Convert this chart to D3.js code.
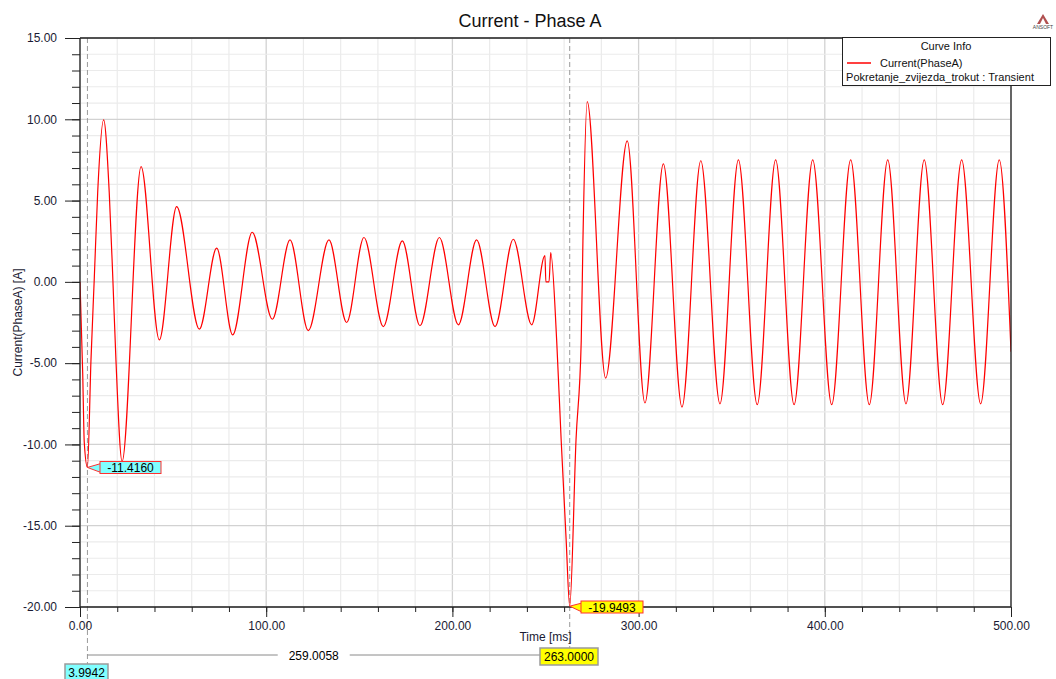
<!DOCTYPE html>
<html><head><meta charset="utf-8">
<script src="https://cdn.jsdelivr.net/npm/d3@7"></script>
<style>body{margin:0;background:#fff;} svg{display:block;font-family:Arial,"Liberation Sans",sans-serif;}</style>
</head><body><svg id="c" width="1056" height="679"></svg>
<script>
// ---- data ----
const timeMs = [0, 1.45, 2.3, 3.99, 5.9, 7.7, 9.5, 12.7, 15.7, 17.6, 19.3, 22.6,
  32.8, 42.6, 51.9, 64.1, 73.4, 82.0, 92.5, 103.3, 112.8, 122.6, 133.7, 143.2,
  152.5, 162.9, 173.1, 182.6, 193.0, 203.2, 213.0, 222.9, 232.7, 242.6,
  249.7, 250.2, 251.9, 252.8, 256.0, 258.4, 261.1, 263.0, 266.4, 269.2, 270.1, 272.4,
  282.3, 293.9, 303.4, 313.3, 323.3, 333.4, 343.7, 353.6, 363.7, 373.6, 383.5,
  393.5, 403.7, 413.9, 423.9, 433.8, 443.6, 453.4, 463.3, 473.5, 483.7, 493.7, 500.0];
const currentA = [0, -5.6, -9.9, -11.416, -4.8, 0.3, 5.5, 9.96, 5.5, 0.3, -4.8, -11.05,
  7.09, -3.57, 4.63, -2.91, 2.07, -3.26, 3.05, -2.30, 2.58, -3.0, 2.58, -2.5,
  2.73, -2.75, 2.52, -2.7, 2.73, -2.64, 2.58, -2.75, 2.62, -2.64,
  1.62, 0.0, 0.0, 1.80, -3.6, -9.7, -15.9, -19.9493, -9.7, -3.6, 2.5, 11.09,
  -5.92, 8.67, -7.45, 7.26, -7.7, 7.45, -7.5, 7.5, -7.55, 7.5, -7.55,
  7.5, -7.55, 7.5, -7.55, 7.5, -7.5, 7.5, -7.55, 7.5, -7.5, 7.5, -4.3];

const xTickValues = [0, 100, 200, 300, 400, 500];
const xTickLabels = ["0.00", "100.00", "200.00", "300.00", "400.00", "500.00"];
const yTickValues = [15, 10, 5, 0, -5, -10, -15, -20];
const yTickLabels = ["15.00", "10.00", "5.00", "0.00", "-5.00", "-10.00", "-15.00", "-20.00"];
const markerTimes = [3.9942, 263.0];
const markerValues = [-11.4160, -19.9493];
const markerValueLabels = ["-11.4160", "-19.9493"];
const markerTimeLabels = ["3.9942", "263.0000"];
const markerColors = ["#80ffff", "#ffff00"];
const deltaLabel = "259.0058";
const titleText = "Current - Phase A";
const xTitle = "Time [ms]";
const yTitle = "Current(PhaseA) [A]";
const legendTitle = "Curve Info";
const seriesName = "Current(PhaseA)";
const seriesSource = "Pokretanje_zvijezda_trokut : Transient";

// ---- layout ----
const L = 80, R = 1011, T = 38, B = 607;
const svg = d3.select("#c");
const x = d3.scaleLinear().domain([0, 500]).range([L, R]);
const y = d3.scaleLinear().domain([-20, 15]).range([B, T]);
const txt = "#1a1a33";

// grid
const grid = svg.append("g");
d3.range(0, 501, 20).forEach(v => {
  const major = v % 100 === 0;
  grid.append("line").attr("x1", x(v)).attr("x2", x(v)).attr("y1", T).attr("y2", B)
    .attr("stroke", major ? "#d2d2d2" : "#ebebeb").attr("stroke-width", major ? 1.3 : 1.2);
});
d3.range(-20, 16, 1).forEach(v => {
  const major = v % 5 === 0;
  grid.append("line").attr("x1", L).attr("x2", R).attr("y1", y(v)).attr("y2", y(v))
    .attr("stroke", major ? "#d2d2d2" : "#ebebeb").attr("stroke-width", major ? 1.3 : 1.2);
});

// clip & curve
svg.append("defs").append("clipPath").attr("id", "clip").append("rect")
  .attr("x", L).attr("y", T - 2).attr("width", R - L).attr("height", B - T + 4);
const pts = timeMs.map((t, i) => [t, currentA[i]]);
const line = d3.line().x(d => x(d[0])).y(d => y(d[1])).curve(d3.curveMonotoneX);

// marker dashed lines (behind curve)
const mk = svg.append("g");
markerTimes.forEach((t, i) => {
  mk.append("line").attr("x1", x(t)).attr("x2", x(t)).attr("y1", T).attr("y2", i === 0 ? 665 : 648)
    .attr("stroke", "#9a9a9a").attr("stroke-width", 1).attr("stroke-dasharray", "5,3");
});

svg.append("path").datum(pts).attr("clip-path", "url(#clip)")
  .attr("d", line).attr("fill", "none").attr("stroke", "#ff0000").attr("stroke-width", 1.2);

// axes
function styleAxis(g) {
  g.select(".domain").remove();
  g.selectAll(".tick line").attr("stroke", "#222");
  g.selectAll(".tick text").attr("fill", txt).attr("font-size", 12)
    .attr("font-family", "Arial, 'Liberation Sans', sans-serif");
}
svg.append("g").attr("transform", `translate(${L},0)`)
  .call(d3.axisLeft(y).tickValues(d3.range(-20, 16, 1)).tickSize(8).tickFormat(""))
  .call(styleAxis);
svg.append("g").attr("transform", `translate(${L},0)`)
  .call(d3.axisLeft(y).tickValues(yTickValues).tickSize(15).tickPadding(8)
    .tickFormat((d, i) => yTickLabels[i]))
  .call(styleAxis);
svg.append("g").attr("transform", `translate(0,${B})`)
  .call(d3.axisBottom(x).tickValues(d3.range(0, 501, 20)).tickSize(5).tickFormat(""))
  .call(styleAxis);
svg.append("g").attr("transform", `translate(0,${B})`)
  .call(d3.axisBottom(x).tickValues(xTickValues).tickSize(10).tickPadding(4)
    .tickFormat((d, i) => xTickLabels[i]))
  .call(styleAxis);

// frame
const fr = svg.append("g").attr("stroke", "#222").attr("stroke-width", 1.3);
fr.append("line").attr("x1", L).attr("x2", L).attr("y1", T).attr("y2", B);
fr.append("line").attr("x1", R).attr("x2", R).attr("y1", T).attr("y2", B);
fr.append("line").attr("x1", L).attr("x2", R).attr("y1", T).attr("y2", T);
fr.append("line").attr("x1", L).attr("x2", R).attr("y1", B).attr("y2", B);

// titles
svg.append("text").attr("x", 530).attr("y", 27).attr("text-anchor", "middle")
  .attr("font-size", 18).attr("fill", "#111").text(titleText);
svg.append("text").attr("x", (L + R) / 2).attr("y", 641).attr("text-anchor", "middle")
  .attr("font-size", 12).attr("fill", txt).text(xTitle);
svg.append("text").attr("transform", `translate(22,${(T + B) / 2}) rotate(-90)`)
  .attr("text-anchor", "middle").attr("font-size", 12).attr("fill", txt).text(yTitle);

// marker value labels
const boxes = [{x0: 100, w: 61, yc: 467.5}, {x0: 581, w: 62, yc: 607}];
markerTimes.forEach((t, i) => {
  const px = x(t), py = y(markerValues[i]);
  const b = boxes[i];
  const g = svg.append("g");
  g.append("path")
    .attr("d", `M${px},${py} L${b.x0 + 1},${b.yc - 4} L${b.x0 + 1},${b.yc + 5} Z`)
    .attr("fill", markerColors[i]).attr("stroke", "#ff3030").attr("stroke-width", 1);
  g.append("rect").attr("x", b.x0).attr("y", b.yc - 6).attr("width", b.w).attr("height", 12)
    .attr("fill", markerColors[i]).attr("stroke", "#ff3030").attr("stroke-width", 1);
  g.append("text").attr("x", b.x0 + b.w / 2).attr("y", b.yc + 4.5).attr("text-anchor", "middle")
    .attr("font-size", 12).attr("fill", "#000").text(markerValueLabels[i]);
});

// delta line + time labels
const dl = svg.append("g");
dl.append("line").attr("x1", x(markerTimes[0])).attr("x2", 540).attr("y1", 655).attr("y2", 655)
  .attr("stroke", "#8a8a8a").attr("stroke-width", 1);
const dmid = (x(markerTimes[0]) + 540) / 2;
dl.append("rect").attr("x", dmid - 36).attr("y", 648).attr("width", 72).attr("height", 14).attr("fill", "#fff");
dl.append("text").attr("x", dmid).attr("y", 659.5).attr("text-anchor", "middle")
  .attr("font-size", 12).attr("fill", "#000").text(deltaLabel);
const tb = [{x0: 65, w: 43, y0: 664}, {x0: 540, w: 58, y0: 648}];
markerTimeLabels.forEach((s, i) => {
  dl.append("rect").attr("x", tb[i].x0).attr("y", tb[i].y0).attr("width", tb[i].w).attr("height", 17)
    .attr("fill", markerColors[i]).attr("stroke", "#9a9a9a").attr("stroke-width", 1.5);
  dl.append("text").attr("x", tb[i].x0 + tb[i].w / 2).attr("y", tb[i].y0 + 13).attr("text-anchor", "middle")
    .attr("font-size", 12).attr("fill", "#000").text(s);
});

// legend
const lg = svg.append("g");
lg.append("rect").attr("x", 842.5).attr("y", 37.5).attr("width", 208).attr("height", 48)
  .attr("fill", "#fff").attr("stroke", "#222").attr("stroke-width", 1);
lg.append("text").attr("x", 946).attr("y", 50).attr("text-anchor", "middle")
  .attr("font-size", 11).attr("fill", "#111").text(legendTitle);
lg.append("line").attr("x1", 847).attr("x2", 871).attr("y1", 63).attr("y2", 63)
  .attr("stroke", "#ff0000").attr("stroke-width", 1.5);
lg.append("text").attr("x", 880).attr("y", 67).attr("font-size", 11).attr("fill", "#111").text(seriesName);
lg.append("text").attr("x", 846).attr("y", 81).attr("font-size", 11).attr("fill", "#111")
  .attr("textLength", 188).text(seriesSource);

// small logo
const lo = svg.append("g");
lo.append("path").attr("d", "M1043,14 L1049,24 L1037,24 Z").attr("fill", "#b05050");
lo.append("path").attr("d", "M1043,18 L1046,24 L1040,24 Z").attr("fill", "#fff");
lo.append("text").attr("x", 1043).attr("y", 29).attr("text-anchor", "middle")
  .attr("font-size", 5).attr("fill", "#444").text("ANSOFT");
</script></body></html>
